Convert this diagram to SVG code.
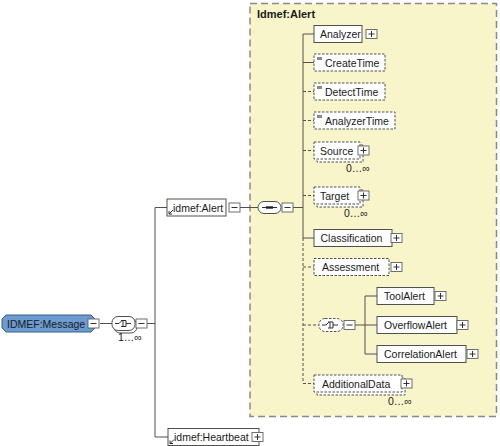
<svg xmlns="http://www.w3.org/2000/svg" width="500" height="446" viewBox="0 0 500 446">
<style>
text{font-family:"Liberation Sans",Arial,sans-serif;font-size:10.5px;fill:#1a1a1a}
.title{font-weight:bold;font-size:11px}
.mult{font-size:10.5px}
.box{fill:#fff;stroke:#505050;stroke-width:1}
.opt{fill:#fff;stroke:#505050;stroke-width:1;stroke-dasharray:2.5 1.5}
.pm{fill:#fff;stroke:#606060;stroke-width:0.9}
.sym{fill:none;stroke:#303030;stroke-width:1}
.ln{fill:none;stroke:#505050;stroke-width:1}
.dln{fill:none;stroke:#505050;stroke-width:1;stroke-dasharray:3 2}
.ico{fill:#8a8a8a}
</style>
<defs>
<g id="plus"><rect class="pm" x="0" y="0" width="11" height="9"/><path class="sym" d="M2.5 4.5h6M5.5 1.5v6"/></g>
<g id="minus"><rect class="pm" x="0" y="0" width="11" height="9"/><path class="sym" d="M2.5 4.5h6"/></g>
</defs>

<g id="alert-container">
<rect x="250" y="3.5" width="246.5" height="413" fill="#f9f5cb" stroke="#8a8a8a" stroke-width="1.5" stroke-dasharray="7 4"/>
<text class="title" x="257" y="18">Idmef:Alert</text>
</g>

<g id="connectors">
<path class="ln" d="M100 323.5H112"/>
<path class="ln" d="M147 323.5H155M155 207.5V437M155 207.5H167M155 437H168"/>
<path class="ln" d="M240 207.5H258M292 207.5H303"/>
<path class="ln" d="M303 34V238"/>
<path class="dln" d="M303 238V383"/>
<path class="ln" d="M303 34H314M303 62.5H314M303 238H314"/>
<path class="dln" d="M303 91.5H314M303 120.5H314M303 150.5H314M303 195.5H314M303 267H314M303 325H319M303 383.5H314"/>
<path class="ln" d="M355 325H365M365 296V354M365 296H377M365 325H377M365 354H377"/>
</g>

<g id="IDMEF-Message">
<path d="M6 315H91L95 319V328L91 332H6L2 328V319Z" fill="#6b9bd1" stroke="#3d5f8a" stroke-width="1"/>
<text x="7" y="327.5">IDMEF:Message</text>
<use href="#minus" x="88" y="319"/>
</g>

<g id="choice-root">
<rect x="114" y="319" width="23" height="14" rx="6" fill="#fff" stroke="#505050"/>
<rect x="112" y="316.5" width="23" height="14" rx="6" fill="#fff" stroke="#505050"/>
<path class="sym" d="M115 323.5h4l3-3M121 320.5h5v6h-5M126 323.5h5M123 320.5v6"/>
<use href="#minus" x="136" y="319"/>
<text class="mult" x="118" y="341">1…∞</text>
</g>

<g id="idmef-Alert">
<rect class="box" x="167" y="199" width="59" height="17"/>
<path class="sym" d="M169 214l4-4M169 211v3h3" stroke-width="0.8"/>
<text x="173" y="211.5">idmef:Alert</text>
<use href="#minus" x="229" y="203"/>
</g>

<g id="sequence-alert">
<rect x="258" y="201.5" width="23" height="12" rx="6" fill="#fff" stroke="#505050"/>
<path class="sym" d="M262 207.5h15"/>
<rect x="266" y="206.3" width="7" height="2.4" fill="#202020"/>
<use href="#minus" x="282" y="203"/>
</g>

<g id="idmef-Heartbeat">
<rect class="box" x="168" y="428.5" width="91" height="17"/>
<path class="sym" d="M170 443.5l4-4M170 440.5v3h3" stroke-width="0.8"/>
<text x="174" y="441">idmef:Heartbeat</text>
<use href="#plus" x="252" y="432.5"/>
</g>

<g id="Analyzer">
<rect class="box" x="314" y="25.5" width="48" height="17"/>
<text x="320" y="38">Analyzer</text>
<use href="#plus" x="366" y="29.5"/>
</g>

<g id="CreateTime">
<rect class="opt" x="314" y="54" width="71" height="17"/>
<rect class="ico" x="317" y="57" width="5" height="3"/>
<text x="325" y="66.5">CreateTime</text>
</g>

<g id="DetectTime">
<rect class="opt" x="314" y="83" width="71" height="17"/>
<rect class="ico" x="317" y="86" width="5" height="3"/>
<text x="325" y="95.5">DetectTime</text>
</g>

<g id="AnalyzerTime">
<rect class="opt" x="314" y="112" width="81" height="17"/>
<rect class="ico" x="317" y="115" width="5" height="3"/>
<text x="325" y="124.5">AnalyzerTime</text>
</g>

<g id="Source">
<rect class="opt" x="317" y="145" width="46" height="17"/>
<rect class="opt" x="314" y="142" width="46" height="17"/>
<text x="320" y="154.5">Source</text>
<use href="#plus" x="358" y="146"/>
<text class="mult" x="346" y="172">0…∞</text>
</g>

<g id="Target">
<rect class="opt" x="317" y="190" width="46" height="17"/>
<rect class="opt" x="314" y="187" width="46" height="17"/>
<text x="320" y="199.5">Target</text>
<use href="#plus" x="358" y="191"/>
<text class="mult" x="344" y="217">0…∞</text>
</g>

<g id="Classification">
<rect class="box" x="314" y="229.5" width="78" height="17"/>
<text x="320.5" y="242">Classification</text>
<use href="#plus" x="391" y="233.5"/>
</g>

<g id="Assessment">
<rect class="opt" x="314" y="258.5" width="75" height="17"/>
<text x="322" y="271">Assessment</text>
<use href="#plus" x="391" y="262.5"/>
</g>

<g id="choice-alert">
<rect class="opt" x="319" y="318.5" width="24" height="13" rx="6"/>
<path class="sym" d="M322 325h4l3-3M328 322h5v6h-5M333 325h5M330 322v6"/>
<use href="#minus" x="344" y="320.5"/>
</g>

<g id="ToolAlert">
<rect class="box" x="377" y="287.5" width="57" height="17"/>
<text x="384" y="300">ToolAlert</text>
<use href="#plus" x="435" y="291.5"/>
</g>

<g id="OverflowAlert">
<rect class="box" x="377" y="316.5" width="80" height="17"/>
<text x="384" y="329">OverflowAlert</text>
<use href="#plus" x="457" y="320.5"/>
</g>

<g id="CorrelationAlert">
<rect class="box" x="377" y="345.5" width="89" height="17"/>
<text x="384" y="358">CorrelationAlert</text>
<use href="#plus" x="467" y="349.5"/>
</g>

<g id="AdditionalData">
<rect class="opt" x="317" y="378" width="88" height="17"/>
<rect class="opt" x="314" y="375" width="88" height="17"/>
<text x="322" y="387.5">AdditionalData</text>
<use href="#plus" x="401" y="379"/>
<text class="mult" x="388" y="405">0…∞</text>
</g>
</svg>
